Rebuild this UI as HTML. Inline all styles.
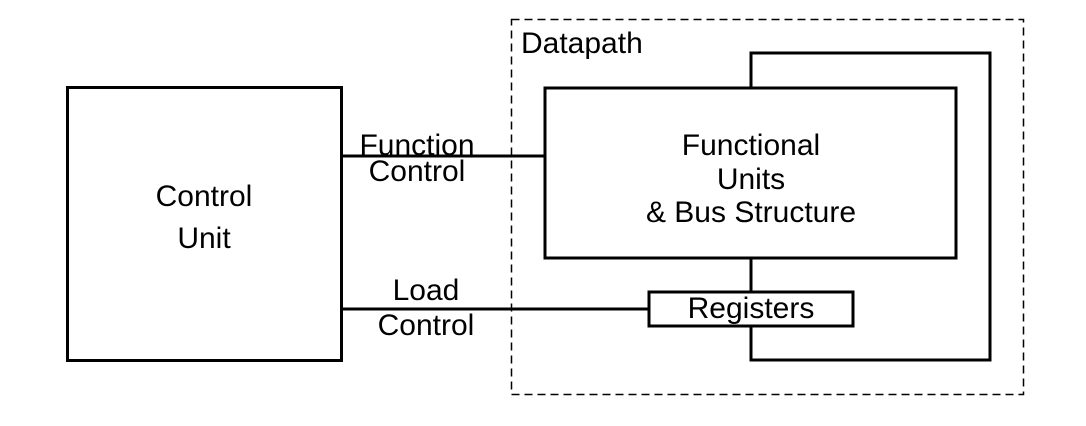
<!DOCTYPE html>
<html><head><style>body{margin:0;background:#fff}</style></head><body>
<svg width="1086" height="421" xmlns="http://www.w3.org/2000/svg" font-family="Liberation Sans, sans-serif" font-size="30" fill="none" stroke="#000">
<rect x="0" y="0" width="1086" height="421" fill="#fff" stroke="none"/>
<rect x="511.5" y="19.5" width="512" height="375" stroke-width="1.5" stroke-dasharray="8,5"/>
<rect x="67.5" y="87.5" width="274" height="273" stroke-width="3"/>
<rect x="545" y="88" width="411" height="170" stroke-width="3"/>
<polyline points="751,88 751,53 990,53 990,360 751,360 751,326" stroke-width="3"/>
<line x1="751" y1="258" x2="751" y2="292" stroke-width="3"/>
<rect x="649" y="292" width="204" height="34" stroke-width="3"/>
<line x1="341" y1="156" x2="545" y2="156" stroke-width="3"/>
<line x1="341" y1="309" x2="649" y2="309" stroke-width="3"/>
<g fill="#000" stroke="none" text-anchor="middle">
<text x="521" y="53" text-anchor="start">Datapath</text>
<text x="417" y="155">Function</text>
<text x="417" y="181">Control</text>
<text x="204" y="206">Control</text>
<text x="204" y="248">Unit</text>
<text x="751" y="155">Functional</text>
<text x="751" y="189">Units</text>
<text x="751" y="222">&amp; Bus Structure</text>
<text x="751" y="318">Registers</text>
<text x="426" y="300">Load</text>
<text x="426" y="335">Control</text>
</g>
</svg>
</body></html>
